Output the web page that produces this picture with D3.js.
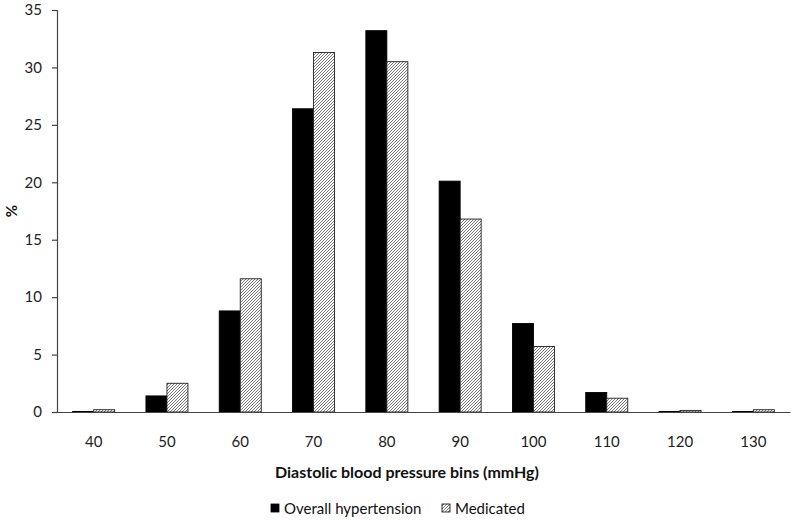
<!DOCTYPE html>
<html>
<head>
<meta charset="utf-8">
<script src="https://cdn.jsdelivr.net/npm/d3@7"></script>
<style>
  html, body { margin: 0; padding: 0; background: #fff; }
  svg { display: block; font-family: Lato, "Liberation Sans", sans-serif; }
</style>
</head>
<body>
<svg id="chart" width="795" height="521"></svg>
<script>
const categories = ["40", "50", "60", "70", "80", "90", "100", "110", "120", "130"];
const seriesNames = ["Overall hypertension", "Medicated"];
const overall = [0.05, 1.4, 8.8, 26.4, 33.2, 20.1, 7.7, 1.7, 0.05, 0.05];
const medicated = [0.2, 2.5, 11.6, 31.3, 30.5, 16.8, 5.7, 1.2, 0.14, 0.2];
const yTicks = [0, 5, 10, 15, 20, 25, 30, 35];
const xTitle = "Diastolic blood pressure bins (mmHg)";
const yTitle = "%";

const svg = d3.select("#chart");
const defs = svg.append("defs");
const pat = defs.append("pattern")
  .attr("id", "hatch")
  .attr("patternUnits", "userSpaceOnUse")
  .attr("width", 3).attr("height", 3);
pat.append("rect").attr("width", 3).attr("height", 3).attr("fill", "#fff");
pat.append("path").attr("d", "M-1,1 L1,-1 M0,3 L3,0 M2,4 L4,2")
  .attr("stroke", "#555").attr("stroke-width", 0.8);

const mLeft = 57, mRight = 790, mTop = 10, mBottom = 412;
const x = d3.scaleBand().domain(categories).range([mLeft, mRight]).padding(0);
const y = d3.scaleLinear().domain([0, 35]).range([mBottom, mTop]);
const barW = 21;
const xs = d3.scaleBand().domain(seriesNames).range([0, barW * 2]);

const fills = ["#000", "url(#hatch)"];
const data = [overall, medicated];

// bars
seriesNames.forEach((s, si) => {
  svg.append("g").selectAll("rect")
    .data(categories.map((c, i) => ({ c, v: data[si][i] })))
    .join("rect")
    .attr("x", d => x(d.c) + x.bandwidth() / 2 - barW + xs(s))
    .attr("y", d => y(d.v))
    .attr("width", xs.bandwidth())
    .attr("height", d => y(0) - y(d.v))
    .attr("fill", fills[si])
    .attr("stroke", si === 0 ? "#000" : "#222")
    .attr("stroke-width", 0.9);
});

// y axis
const yAxis = d3.axisLeft(y).tickValues(yTicks).tickSize(5).tickPadding(10);
const gy = svg.append("g").attr("transform", `translate(${mLeft},0)`).call(yAxis);
gy.select(".domain").attr("stroke", "#444").attr("stroke-width", 1.2);
gy.selectAll(".tick line").attr("stroke", "#444").attr("stroke-width", 1.2);
gy.selectAll(".tick text").attr("fill", "#222").style("font-size", "15px").style("font-family", "Lato, sans-serif");

// x axis
const xAxis = d3.axisBottom(x).tickSize(0).tickPadding(24).tickSizeOuter(0);
const gx = svg.append("g").attr("transform", `translate(0,${mBottom})`).call(xAxis);
gx.select(".domain").attr("stroke", "#444").attr("stroke-width", 1.2);
gx.selectAll(".tick text").attr("fill", "#222").style("font-size", "15px").style("font-family", "Lato, sans-serif");

// titles
svg.append("text")
  .attr("x", 407).attr("y", 478)
  .attr("text-anchor", "middle")
  .style("font-size", "16px").style("font-weight", "bold").attr("fill", "#111")
  .text(xTitle);

svg.append("text")
  .attr("transform", `translate(17,211) rotate(-90)`)
  .attr("text-anchor", "middle")
  .style("font-size", "15px").style("font-weight", "bold").attr("fill", "#111")
  .text(yTitle);

// legend
const legend = svg.append("g");
const legX = [271, 442];
seriesNames.forEach((s, i) => {
  legend.append("rect")
    .attr("x", legX[i]).attr("y", 504).attr("width", 8).attr("height", 8)
    .attr("fill", fills[i]).attr("stroke", "#000").attr("stroke-width", 0.8);
  legend.append("text")
    .attr("x", legX[i] + 13).attr("y", 514)
    .style("font-size", "15px").attr("fill", "#111")
    .text(s);
});
</script>
</body>
</html>
